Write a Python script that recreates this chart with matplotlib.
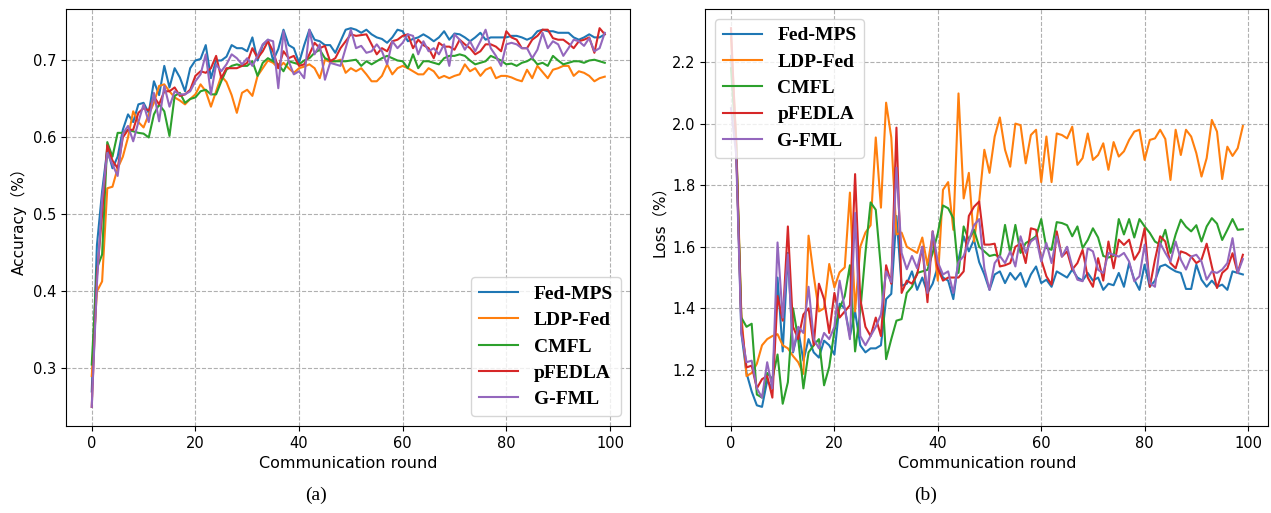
import matplotlib
matplotlib.use('Agg')
import matplotlib.pyplot as plt
import numpy as np

# 数据：通信轮次 0~99
rounds = np.arange(100)
names = ['Fed-MPS', 'LDP-Fed', 'CMFL', 'pFEDLA', 'G-FML']

fed_mps_acc = [0.27, 0.46, 0.53, 0.585, 0.56, 0.575, 0.61, 0.63, 0.62, 0.643,
               0.645, 0.632, 0.673, 0.655, 0.693, 0.665, 0.69, 0.678, 0.66, 0.69,
               0.70, 0.702, 0.72, 0.677, 0.70, 0.70, 0.705, 0.72, 0.716, 0.716,
               0.712, 0.73, 0.70, 0.72, 0.727, 0.70, 0.715, 0.74, 0.72, 0.716,
               0.697, 0.72, 0.74, 0.727, 0.725, 0.72, 0.72, 0.71, 0.725, 0.74,
               0.742, 0.74, 0.736, 0.74, 0.734, 0.73, 0.728, 0.723, 0.73, 0.74,
               0.738, 0.725, 0.728, 0.73, 0.734, 0.73, 0.725, 0.73, 0.738, 0.727,
               0.735, 0.734, 0.73, 0.725, 0.73, 0.736, 0.727, 0.73, 0.73, 0.73,
               0.73, 0.732, 0.732, 0.73, 0.727, 0.73, 0.738, 0.74, 0.738, 0.738,
               0.736, 0.736, 0.736, 0.73, 0.727, 0.73, 0.734, 0.73, 0.73, 0.734]
ldp_fed_acc = [0.29, 0.40, 0.413, 0.534, 0.536, 0.56, 0.575, 0.60, 0.634, 0.62,
               0.613, 0.63, 0.645, 0.667, 0.669, 0.66, 0.652, 0.648, 0.643, 0.65,
               0.656, 0.669, 0.66, 0.64, 0.66, 0.68, 0.672, 0.655, 0.632, 0.658,
               0.662, 0.654, 0.68, 0.69, 0.70, 0.697, 0.69, 0.697, 0.69, 0.684,
               0.69, 0.692, 0.695, 0.69, 0.677, 0.701, 0.698, 0.699, 0.701, 0.684,
               0.69, 0.686, 0.69, 0.682, 0.673, 0.673, 0.68, 0.695, 0.682, 0.69,
               0.693, 0.69, 0.686, 0.682, 0.682, 0.69, 0.686, 0.677, 0.68, 0.677,
               0.68, 0.682, 0.695, 0.686, 0.69, 0.68, 0.688, 0.691, 0.677, 0.68,
               0.68, 0.678, 0.675, 0.673, 0.688, 0.677, 0.693, 0.685, 0.677, 0.688,
               0.69, 0.693, 0.693, 0.68, 0.686, 0.684, 0.68, 0.673, 0.677, 0.679]
cmfl_acc = [0.305, 0.43, 0.448, 0.594, 0.575, 0.606, 0.606, 0.61, 0.608, 0.606,
            0.605, 0.60, 0.63, 0.643, 0.634, 0.602, 0.654, 0.658, 0.645, 0.65,
            0.652, 0.66, 0.662, 0.656, 0.656, 0.673, 0.688, 0.693, 0.695, 0.693,
            0.693, 0.699, 0.68, 0.697, 0.703, 0.699, 0.695, 0.686, 0.699, 0.697,
            0.695, 0.70, 0.703, 0.71, 0.714, 0.703, 0.70, 0.699, 0.699, 0.699,
            0.70, 0.701, 0.693, 0.699, 0.695, 0.699, 0.703, 0.706, 0.703, 0.70,
            0.699, 0.69, 0.708, 0.69, 0.699, 0.699, 0.697, 0.695, 0.703, 0.706,
            0.706, 0.708, 0.706, 0.70, 0.695, 0.697, 0.699, 0.706, 0.703, 0.70,
            0.695, 0.696, 0.693, 0.697, 0.699, 0.703, 0.695, 0.697, 0.693, 0.706,
            0.70, 0.695, 0.697, 0.699, 0.699, 0.697, 0.70, 0.701, 0.699, 0.697]
pfedla_acc = [0.25, 0.42, 0.50, 0.59, 0.57, 0.56, 0.60, 0.61, 0.61, 0.632,
              0.638, 0.635, 0.653, 0.643, 0.66, 0.66, 0.665, 0.654, 0.656, 0.662,
              0.68, 0.686, 0.684, 0.69, 0.706, 0.677, 0.69, 0.69, 0.69, 0.693,
              0.697, 0.716, 0.703, 0.712, 0.725, 0.712, 0.69, 0.712, 0.703, 0.706,
              0.693, 0.695, 0.708, 0.723, 0.716, 0.719, 0.699, 0.703, 0.716, 0.725,
              0.734, 0.732, 0.733, 0.734, 0.721, 0.708, 0.716, 0.712, 0.725, 0.727,
              0.732, 0.734, 0.716, 0.727, 0.72, 0.716, 0.703, 0.723, 0.718, 0.718,
              0.714, 0.727, 0.721, 0.716, 0.708, 0.712, 0.721, 0.721, 0.718, 0.712,
              0.738, 0.73, 0.727, 0.716, 0.716, 0.727, 0.732, 0.74, 0.74, 0.729,
              0.727, 0.727, 0.722, 0.716, 0.725, 0.727, 0.73, 0.71, 0.742, 0.734]
gfml_acc = [0.25, 0.41, 0.52, 0.58, 0.565, 0.55, 0.605, 0.615, 0.595, 0.62,
            0.643, 0.62, 0.658, 0.621, 0.667, 0.64, 0.66, 0.656, 0.656, 0.66,
            0.673, 0.682, 0.708, 0.656, 0.695, 0.686, 0.695, 0.708, 0.703, 0.695,
            0.703, 0.693, 0.706, 0.721, 0.727, 0.725, 0.664, 0.738, 0.699, 0.682,
            0.686, 0.677, 0.74, 0.708, 0.721, 0.675, 0.697, 0.695, 0.693, 0.716,
            0.74, 0.716, 0.719, 0.71, 0.712, 0.721, 0.712, 0.695, 0.725, 0.716,
            0.723, 0.734, 0.732, 0.708, 0.725, 0.712, 0.716, 0.708, 0.721, 0.693,
            0.734, 0.727, 0.714, 0.725, 0.712, 0.725, 0.74, 0.716, 0.706, 0.693,
            0.721, 0.723, 0.721, 0.716, 0.716, 0.703, 0.714, 0.736, 0.716, 0.725,
            0.721, 0.706, 0.716, 0.727, 0.725, 0.719, 0.729, 0.712, 0.716, 0.736]

fed_mps_loss = [2.22, 1.95, 1.32, 1.19, 1.13, 1.085, 1.08, 1.165, 1.14, 1.50,
                1.26, 1.58, 1.257, 1.33, 1.23, 1.30, 1.257, 1.24, 1.295, 1.28,
                1.25, 1.415, 1.40, 1.31, 1.39, 1.28, 1.257, 1.27, 1.27, 1.28,
                1.43, 1.447, 1.70, 1.473, 1.48, 1.52, 1.46, 1.50, 1.45, 1.48,
                1.536, 1.50, 1.49, 1.43, 1.558, 1.634, 1.585, 1.623, 1.55, 1.51,
                1.46, 1.51, 1.52, 1.482, 1.515, 1.493, 1.515, 1.47, 1.51, 1.536,
                1.482, 1.493, 1.47, 1.52, 1.51, 1.50, 1.526, 1.50, 1.49, 1.515,
                1.49, 1.50, 1.46, 1.48, 1.475, 1.515, 1.47, 1.547, 1.493, 1.46,
                1.542, 1.47, 1.49, 1.536, 1.542, 1.53, 1.52, 1.515, 1.463, 1.463,
                1.542, 1.493, 1.47, 1.49, 1.47, 1.477, 1.46, 1.52, 1.515, 1.51]
ldp_fed_loss = [2.28, 1.95, 1.38, 1.18, 1.19, 1.22, 1.28, 1.30, 1.31, 1.316,
                1.28, 1.27, 1.245, 1.225, 1.187, 1.636, 1.506, 1.39, 1.40, 1.544,
                1.468, 1.517, 1.533, 1.776, 1.39, 1.60, 1.646, 1.67, 1.955, 1.727,
                2.068, 1.955, 1.64, 1.646, 1.60, 1.59, 1.58, 1.63, 1.54, 1.64,
                1.49, 1.785, 1.81, 1.655, 2.098, 1.757, 1.84, 1.617, 1.747, 1.915,
                1.84, 1.958, 2.02, 1.915, 1.86, 2.0, 1.995, 1.871, 1.963, 1.98,
                1.81, 1.958, 1.81, 1.968, 1.963, 1.952, 1.99, 1.866, 1.888, 1.968,
                1.882, 1.898, 1.936, 1.85, 1.94, 1.893, 1.91, 1.947, 1.974, 1.98,
                1.882, 1.947, 1.952, 1.98, 1.95, 1.817, 1.98, 1.898, 1.98, 1.958,
                1.904, 1.828, 1.888, 2.012, 1.974, 1.82, 1.925, 1.895, 1.92, 1.992]
cmfl_loss = [2.18, 1.93, 1.37, 1.34, 1.35, 1.12, 1.11, 1.19, 1.17, 1.25,
             1.09, 1.16, 1.40, 1.30, 1.14, 1.257, 1.28, 1.30, 1.15, 1.21,
             1.327, 1.40, 1.44, 1.54, 1.26, 1.39, 1.58, 1.744, 1.72, 1.53,
             1.235, 1.30, 1.36, 1.365, 1.45, 1.47, 1.515, 1.52, 1.525, 1.58,
             1.644, 1.734, 1.725, 1.693, 1.515, 1.666, 1.622, 1.655, 1.60, 1.585,
             1.57, 1.574, 1.568, 1.671, 1.58, 1.671, 1.58, 1.612, 1.622, 1.634,
             1.69, 1.596, 1.59, 1.68, 1.677, 1.67, 1.634, 1.666, 1.596, 1.622,
             1.66, 1.63, 1.57, 1.565, 1.57, 1.69, 1.64, 1.69, 1.63, 1.69,
             1.666, 1.645, 1.617, 1.607, 1.655, 1.58, 1.64, 1.688, 1.665, 1.65,
             1.67, 1.617, 1.666, 1.693, 1.675, 1.622, 1.655, 1.69, 1.655, 1.657]
pfedla_loss = [2.31, 1.92, 1.35, 1.208, 1.214, 1.14, 1.17, 1.18, 1.11, 1.44,
               1.36, 1.666, 1.34, 1.30, 1.38, 1.40, 1.28, 1.48, 1.43, 1.32,
               1.45, 1.37, 1.39, 1.41, 1.836, 1.43, 1.34, 1.31, 1.37, 1.31,
               1.54, 1.48, 1.987, 1.45, 1.49, 1.48, 1.51, 1.60, 1.42, 1.65,
               1.53, 1.49, 1.50, 1.50, 1.50, 1.52, 1.70, 1.73, 1.747, 1.607,
               1.607, 1.61, 1.536, 1.54, 1.547, 1.60, 1.61, 1.547, 1.66, 1.655,
               1.558, 1.504, 1.477, 1.65, 1.568, 1.585, 1.526, 1.547, 1.59, 1.50,
               1.47, 1.563, 1.49, 1.617, 1.53, 1.623, 1.606, 1.623, 1.558, 1.585,
               1.66, 1.47, 1.558, 1.634, 1.617, 1.547, 1.53, 1.585, 1.579, 1.568,
               1.547, 1.558, 1.61, 1.536, 1.466, 1.515, 1.53, 1.579, 1.515, 1.574]
gfml_loss = [2.05, 1.90, 1.32, 1.225, 1.23, 1.14, 1.11, 1.225, 1.14, 1.614,
             1.37, 1.575, 1.26, 1.34, 1.32, 1.47, 1.30, 1.27, 1.32, 1.30,
             1.34, 1.49, 1.40, 1.30, 1.71, 1.31, 1.28, 1.31, 1.34, 1.38,
             1.52, 1.485, 1.857, 1.58, 1.527, 1.57, 1.53, 1.60, 1.45, 1.65,
             1.55, 1.51, 1.52, 1.45, 1.55, 1.57, 1.62, 1.67, 1.69, 1.53,
             1.46, 1.547, 1.57, 1.547, 1.585, 1.536, 1.634, 1.58, 1.617, 1.63,
             1.552, 1.612, 1.547, 1.634, 1.568, 1.60, 1.536, 1.493, 1.488, 1.595,
             1.585, 1.525, 1.515, 1.58, 1.574, 1.568, 1.58, 1.552, 1.488, 1.504,
             1.607, 1.482, 1.47, 1.612, 1.58, 1.552, 1.617, 1.558, 1.526, 1.568,
             1.574, 1.552, 1.493, 1.52, 1.515, 1.526, 1.547, 1.628, 1.515, 1.56]

acc_series = [fed_mps_acc, ldp_fed_acc, cmfl_acc, pfedla_acc, gfml_acc]
loss_series = [fed_mps_loss, ldp_fed_loss, cmfl_loss, pfedla_loss, gfml_loss]

label_font = ['DejaVu Sans', 'Noto Sans CJK SC']
legend_font = {'family': 'Liberation Serif', 'weight': 'bold', 'size': 14}

fig = plt.figure(figsize=(12.71, 5.13), dpi=100)
ax1 = fig.add_axes([0.052, 0.170, 0.444, 0.812])
ax2 = fig.add_axes([0.555, 0.170, 0.443, 0.812])

for ys, name in zip(acc_series, names):
    ax1.plot(rounds, ys, label=name, linewidth=1.5)
for ys, name in zip(loss_series, names):
    ax2.plot(rounds, ys, label=name, linewidth=1.5)

for ax in (ax1, ax2):
    ax.grid(True, linestyle='--', color='#b0b0b0', linewidth=0.8)
    ax.tick_params(labelsize=10.5)
    ax.set_xlabel('Communication round', fontsize=11.5)
    ax.set_xticks([0, 20, 40, 60, 80, 100])

ax1.set_ylabel('Accuracy（%）', fontsize=11, family=label_font)
ax2.set_ylabel('Loss（%）', fontsize=11, family=label_font)
ax1.set_yticks([0.3, 0.4, 0.5, 0.6, 0.7])
ax2.set_yticks([1.2, 1.4, 1.6, 1.8, 2.0, 2.2])

ax1.legend(loc='lower right', prop=legend_font, labelspacing=0.45)
ax2.legend(loc='upper left', prop=legend_font, labelspacing=0.45)

fig.text(0.249, 0.035, '(a)', ha='center', va='center', fontsize=14, family='Liberation Serif')
fig.text(0.728, 0.035, '(b)', ha='center', va='center', fontsize=14, family='Liberation Serif')

plt.savefig('out.png', dpi=100)
